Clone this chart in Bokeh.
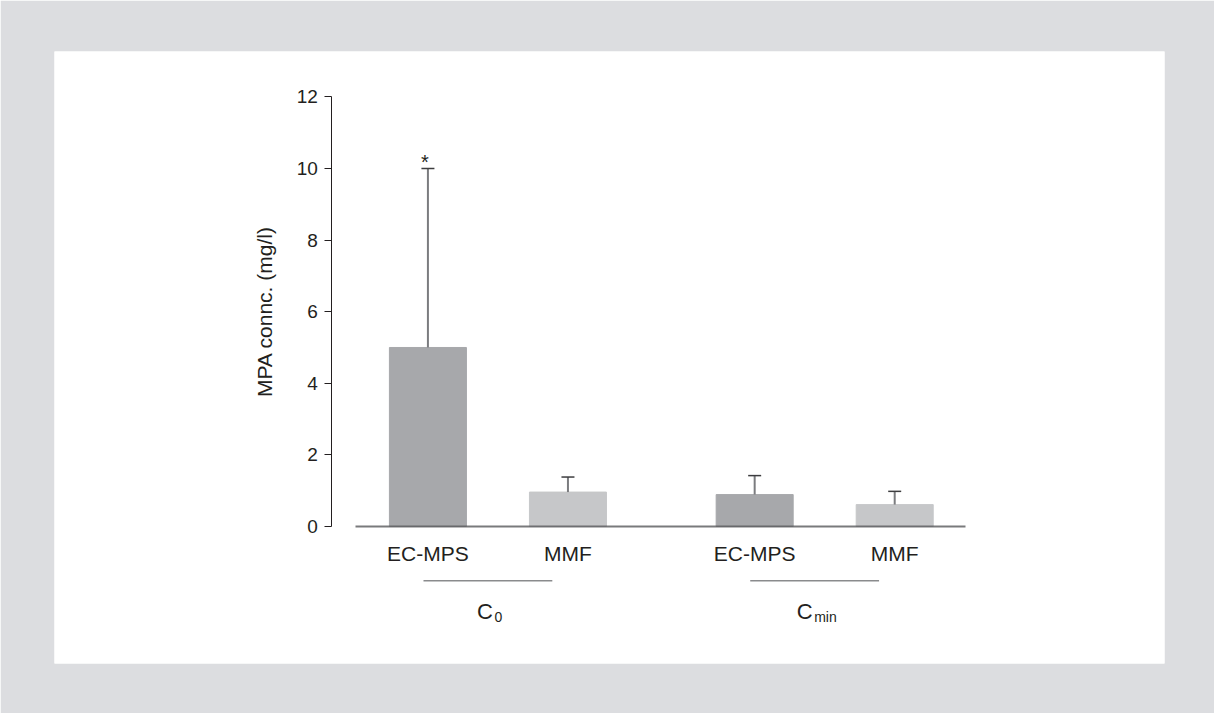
from bokeh.plotting import figure
from bokeh.models import Range1d, LinearAxis, FixedTicker, ColumnDataSource, Whisker, TeeHead
from bokeh.core.properties import value
from bokeh.embed import file_html
from bokeh.resources import INLINE

# ---- data ----
group_main = ["C", "C"]
group_subs = ["0", "min"]
subgroups = ["EC-MPS", "MMF"]
means = [5.0, 0.96, 0.89, 0.61]        # C0 EC-MPS, C0 MMF, Cmin EC-MPS, Cmin MMF
uppers = [10.0, 1.38, 1.42, 0.98]      # mean + SD
significant = [True, False, False, False]
bar_colors = ["#a7a8ab", "#c6c7c9"]
y_ticks = [0, 2, 4, 6, 8, 10, 12]
y_title = "MPA connc. (mg/l)"

FONT = "Liberation Sans"
TXT = "#231f20"
SUB_STEP, GROUP_STEP = 3, 7

xs, labels, colors = [], [], []
for gi in range(len(group_subs)):
    for si, s in enumerate(subgroups):
        xs.append(gi * GROUP_STEP + si * SUB_STEP)
        labels.append(s)
        colors.append(bar_colors[si])

src = ColumnDataSource(dict(x=xs, top=means, upper=uppers, color=colors))

p = figure(width=1214, height=713,
           x_range=Range1d(-8.0, 15.78), y_range=Range1d(-3.83, 13.27),
           output_backend="svg", toolbar_location=None,
           x_axis_location=None, y_axis_location=None,
           min_border_left=54, min_border_right=50, min_border_top=51, min_border_bottom=50,
           border_fill_color="#dcdde0", background_fill_color="white",
           outline_line_color=None)
p.grid.visible = False

p.vbar(x="x", top="top", bottom=0, width=1.65, color="color", source=src)

wh = Whisker(source=src, base="x", upper="upper", lower="top",
             line_color="#7b7c7f", line_width=2,
             upper_head=TeeHead(size=13, line_color="#3d3d3f", line_width=1.5),
             lower_head=None, level="annotation")
p.add_layout(wh)

# significance marker
sx = [x for x, s in zip(xs, significant) if s]
sy = [u for u, s in zip(uppers, significant) if s]
p.text(x=sx, y=sy, text=["*"] * len(sx), text_align="center", text_baseline="alphabetic",
       x_offset=-3, y_offset=-7, text_font=value(FONT), text_font_size="20px", text_color=TXT)

# y axis
yax = LinearAxis(fixed_location=xs[0] - 2.057, bounds=(y_ticks[0], y_ticks[-1]),
                 ticker=FixedTicker(ticks=y_ticks), axis_label=y_title)
yax.axis_line_color = TXT
yax.axis_line_width = 1
yax.major_tick_line_color = TXT
yax.major_tick_out = 7
yax.major_tick_in = 0
yax.minor_tick_line_color = None
yax.major_label_standoff = 7
yax.major_label_text_font = FONT
yax.major_label_text_font_size = "19px"
yax.major_label_text_color = TXT
yax.axis_label_text_font = FONT
yax.axis_label_text_font_size = "21px"
yax.axis_label_text_font_style = "normal"
yax.axis_label_text_color = TXT
yax.axis_label_standoff = 17
p.add_layout(yax, "left")

# x axis (subgroup labels)
xax = LinearAxis(fixed_location=0, bounds=(xs[0] - 1.55, xs[-1] + 1.52),
                 ticker=FixedTicker(ticks=xs),
                 major_label_overrides={x: l for x, l in zip(xs, labels)})
xax.axis_line_color = "#58595b"
xax.axis_line_alpha = 0.8
xax.axis_line_width = 2
xax.major_tick_line_color = None
xax.minor_tick_line_color = None
xax.major_label_standoff = 10
xax.major_label_text_font = FONT
xax.major_label_text_font_size = "21px"
xax.major_label_text_color = TXT
p.add_layout(xax, "below")

# group underlines and labels
centers = [gi * GROUP_STEP + (len(subgroups) - 1) * SUB_STEP / 2 for gi in range(len(group_subs))]
line_c = [c - 0.215 for c in centers]
p.segment(x0=[c - 1.38 for c in line_c], x1=[c + 1.38 for c in line_c],
          y0=[-1.52] * len(line_c), y1=[-1.52] * len(line_c),
          line_color="#8a8b8d", line_width=1.5)
c_off = [2 + (14 - 7 * len(s) - 1) / 2 for s in group_subs]
for lc, m, s, off in zip(line_c, group_main, group_subs, c_off):
    p.text(x=[lc], y=[-2.37], text=[m], text_align="right", text_baseline="alphabetic",
           x_offset=off, text_font=value(FONT), text_font_size="22px", text_color=TXT)
    p.text(x=[lc], y=[-2.37], text=[s], text_align="left", text_baseline="alphabetic",
           x_offset=off + 1.5, y_offset=6, text_font=value(FONT), text_font_size="14px", text_color=TXT)

open("out.html", "w").write(file_html(p, INLINE))
